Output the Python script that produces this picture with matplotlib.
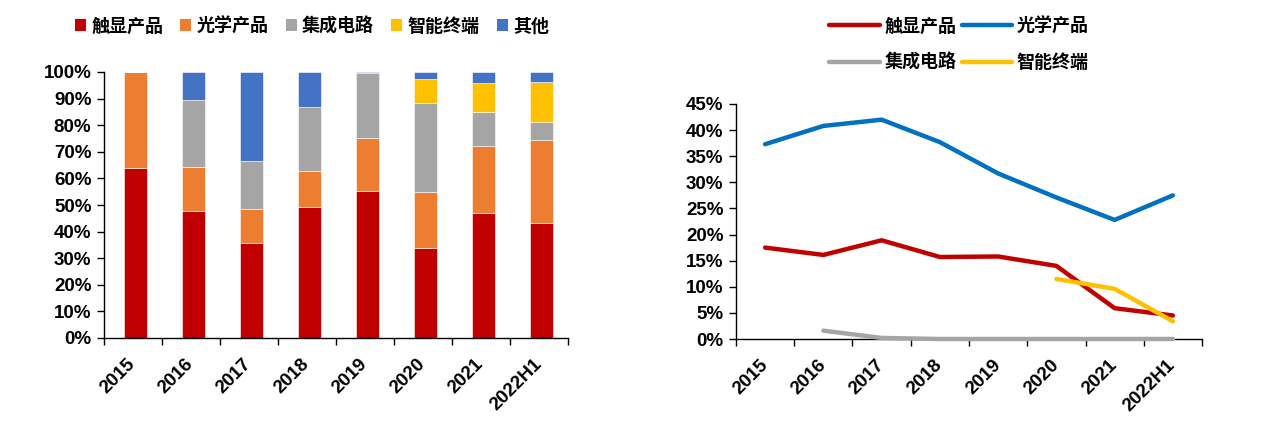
import matplotlib
matplotlib.use("Agg")
import matplotlib.pyplot as plt
import numpy as np
from matplotlib.patches import Patch
from matplotlib.lines import Line2D
from matplotlib.ticker import PercentFormatter, FixedLocator

years = ["2015", "2016", "2017", "2018", "2019", "2020", "2021", "2022H1"]
series_names = ["触显产品", "光学产品", "集成电路", "智能终端", "其他"]

# stacked bar shares (%)
touch_share = [64.0, 47.8, 35.6, 49.1, 55.3, 34.0, 46.9, 43.4]
optic_share = [36.0, 16.6, 12.9, 13.8, 20.0, 20.9, 25.1, 30.9]
ic_share = [0.0, 25.2, 18.1, 24.0, 24.4, 33.5, 13.0, 7.0]
smart_share = [0.0, 0.0, 0.0, 0.0, 0.0, 9.0, 11.0, 14.9]
other_share = [0.0, 10.4, 33.4, 13.1, 0.3, 2.6, 4.0, 3.8]

# line values (%)
touch_line = [17.5, 16.1, 18.9, 15.7, 15.8, 14.0, 5.9, 4.5]
optic_line = [37.3, 40.8, 42.0, 37.7, 31.7, 27.1, 22.8, 27.5]
ic_line = [np.nan, 1.6, 0.2, 0.0, 0.0, 0.0, 0.0, 0.0]
smart_line = [np.nan, np.nan, np.nan, np.nan, np.nan, 11.5, 9.6, 3.4]

bar_colors = ["#C00000", "#ED7D31", "#A5A5A5", "#FFC000", "#4472C4"]
line_colors = ["#C00000", "#0070C0", "#A5A5A5", "#FFC000"]

plt.rcParams['font.family'] = ['Liberation Sans', 'Noto Sans CJK SC', 'DejaVu Sans']
cjk = ['Noto Sans CJK SC', 'DejaVu Sans']

fig = plt.figure(figsize=(12.69, 4.22), dpi=100)
ax1 = fig.add_axes([104/1269, 1-338/422, (568-104)/1269, (338-72)/422])
ax2 = fig.add_axes([736/1269, 1-339/422, (1202-736)/1269, (339-104)/422])

x = np.arange(len(years))

# --- stacked bars
bottom = np.zeros(len(years))
stack = [touch_share, optic_share, ic_share, smart_share, other_share]
for vals, c in zip(stack, bar_colors):
    v = np.array(vals)
    ax1.bar(x + 0.04, v, width=0.4, bottom=bottom, color=c, edgecolor='white', linewidth=0.4, zorder=2)
    bottom += v
ax1.set_ylim(0, 100)
ax1.set_yticks(np.arange(0, 101, 10))
ax1.yaxis.set_major_formatter(PercentFormatter(100, decimals=0))

# --- lines
lines_data = [touch_line, optic_line, ic_line, smart_line]
for vals, c in zip(lines_data, line_colors):
    ax2.plot(x, vals, color=c, lw=3.2, solid_capstyle='round', clip_on=False, zorder=3)
ax2.set_ylim(0, 45)
ax2.set_yticks(np.arange(0, 46, 5))
ax2.yaxis.set_major_formatter(PercentFormatter(100, decimals=0))

for ax in (ax1, ax2):
    ax.set_xlim(-0.5, len(years) - 0.5)
    for s in ['top', 'right']:
        ax.spines[s].set_visible(False)
    for s in ['left', 'bottom']:
        ax.spines[s].set_color('black')
        ax.spines[s].set_linewidth(1.0)
    ax.set_xticks(x)
    ax.set_xticklabels(years, rotation=45, ha='right', va='center', rotation_mode='anchor',
                       fontsize=13.5, fontweight='bold')
    ax.tick_params(axis='x', which='major', length=0, pad=17)
    ax.xaxis.set_minor_locator(FixedLocator(np.arange(-0.5, len(years), 1.0)))
    ax.tick_params(axis='x', which='minor', length=5, direction='out', width=1)
    ax.tick_params(axis='y', length=5, direction='out', width=1, pad=4, labelsize=13.5)
    for lab in ax.get_yticklabels():
        lab.set_fontweight('bold')

# legends
bar_handles = [Patch(facecolor=c, edgecolor='none') for c in bar_colors]
fig.legend(bar_handles, series_names, loc='center', bbox_to_anchor=(312/1269, 1-26/422),
           ncol=5, frameon=False, prop={'family': cjk, 'size': 13, 'weight': 'bold'},
           handlelength=0.6, handleheight=0.6, handletextpad=0.3, columnspacing=0.95,
           borderpad=0, borderaxespad=0)

line_handles = [Line2D([0], [0], color=c, lw=3.2, solid_capstyle='round') for c in line_colors]
order = [0, 2, 1, 3]
fig.legend([line_handles[i] for i in order], [series_names[i] for i in order],
           loc='center', bbox_to_anchor=(959/1269, 1-44.3/422),
           ncol=2, frameon=False, prop={'family': cjk, 'size': 13, 'weight': 'bold'},
           handlelength=2.8, handletextpad=0.25, columnspacing=0.3, labelspacing=0.95,
           borderpad=0, borderaxespad=0)

fig.savefig("out.png", dpi=100)
